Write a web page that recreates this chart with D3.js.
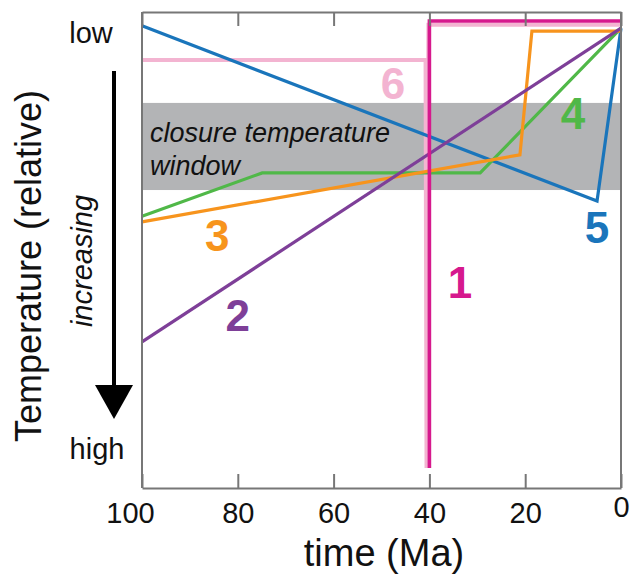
<!DOCTYPE html>
<html>
<head>
<meta charset="utf-8">
<script src="https://cdn.jsdelivr.net/npm/d3@7"></script>
<style>
  body { margin: 0; background: #fff; }
  svg { font-family: "Liberation Sans", Arial, sans-serif; }
</style>
</head>
<body>
<svg id="chart" width="630" height="575"></svg>
<script>
// time ticks (Ma), x axis runs backwards
var timeTicks = [100, 80, 60, 40, 20, 0];

// relative temperature: 0 = low (top), 100 = high (bottom)
var closureWindow = [19.1, 37.4];

// thermal histories, [time, temperature]
var path1 = [[40, 95.8], [40, 1.9], [0, 1.9]];
var path2 = [[100, 69.3], [0, 3.4]];
var path3 = [[100, 44.1], [21.1, 30.0], [18.6, 4.0], [0, 4.0]];
var path4 = [[100, 42.9], [74.9, 33.8], [29.4, 33.8], [0, 3.4]];
var path5 = [[100, 2.9], [5.0, 39.7], [0, 3.4]];
var path6 = [[100, 10.1], [40.8, 10.1], [40.6, 95.8], [40.2, 2.7], [0, 2.7]];

var seriesNames = ["6", "5", "4", "3", "2", "1"];
var seriesPaths = [path6, path5, path4, path3, path2, path1];
var seriesColors = ["#f3b4d1", "#1a75bb", "#50b848", "#f7941d", "#7e3f98", "#d6198d"];
var seriesWidths = [4, 3.2, 3.2, 3.2, 3.2, 3.6];
// where each number label sits, [time, temperature]
var labelAt = [[47.6, 14.9], [5.0, 45.2], [10.0, 21.2], [84.3, 46.8], [80.0, 63.7], [33.6, 56.7]];

var svg = d3.select("#chart");
var plotLeft = 142, plotRight = 621, plotTop = 12, plotBottom = 488;

var x = d3.scaleLinear().domain([100, 0]).range([plotLeft, plotRight]);
var y = d3.scaleLinear().domain([0, 100]).range([plotTop, plotBottom]);

// closure temperature window
svg.append("rect")
    .attr("x", plotLeft).attr("width", plotRight - plotLeft)
    .attr("y", y(closureWindow[0])).attr("height", y(closureWindow[1]) - y(closureWindow[0]))
    .attr("fill", "#b3b4b6");

var win = svg.append("text")
    .attr("x", 150).attr("y", 142)
    .attr("font-size", 27).attr("font-style", "italic").attr("fill", "#111");
win.append("tspan").attr("x", 150).text("closure temperature");
win.append("tspan").attr("x", 150).attr("dy", 33).text("window");

var line = d3.line().x(function(d) { return x(d[0]); }).y(function(d) { return y(d[1]); });

svg.selectAll("path.history")
    .data(seriesPaths)
    .enter().append("path")
    .attr("class", "history")
    .attr("d", line)
    .attr("fill", "none")
    .attr("stroke", function(d, i) { return seriesColors[i]; })
    .attr("stroke-width", function(d, i) { return seriesWidths[i]; })
    .attr("stroke-linejoin", "miter");

svg.selectAll("text.num")
    .data(seriesNames)
    .enter().append("text")
    .attr("class", "num")
    .attr("x", function(d, i) { return x(labelAt[i][0]); })
    .attr("y", function(d, i) { return y(labelAt[i][1]); })
    .attr("dy", "0.36em")
    .attr("text-anchor", "middle")
    .attr("font-size", 44).attr("font-weight", "bold")
    .attr("fill", function(d, i) { return seriesColors[i]; })
    .text(function(d) { return d; });

// frame with inward ticks top and bottom
var frame = "#777";
svg.append("g")
    .attr("transform", "translate(0," + plotBottom + ")")
    .call(d3.axisBottom(x).tickValues(timeTicks).tickSize(-14).tickPadding(14).tickSizeOuter(0))
    .call(function(g) {
        g.select(".domain").attr("stroke", frame).attr("stroke-width", 2);
        g.selectAll(".tick line").attr("stroke", frame).attr("stroke-width", 2);
        g.selectAll(".tick text").attr("font-size", 29).attr("fill", "#111")
            .attr("font-family", "Liberation Sans, Arial, sans-serif");
        g.selectAll(".tick").filter(function(d) { return d === 0; }).select("text").attr("dy", "0.5em");
        g.selectAll(".tick").filter(function(d) { return d === 100; }).select("text").attr("dx", -12);
    });
svg.append("g")
    .attr("transform", "translate(0," + plotTop + ")")
    .call(d3.axisTop(x).tickValues(timeTicks).tickSize(-14).tickFormat("").tickSizeOuter(0))
    .call(function(g) {
        g.select(".domain").attr("stroke", frame).attr("stroke-width", 2);
        g.selectAll(".tick line").attr("stroke", frame).attr("stroke-width", 2);
    });
svg.append("line").attr("x1", plotLeft).attr("x2", plotLeft).attr("y1", plotTop).attr("y2", plotBottom)
    .attr("stroke", frame).attr("stroke-width", 2);
svg.append("line").attr("x1", plotRight).attr("x2", plotRight).attr("y1", plotTop).attr("y2", plotBottom)
    .attr("stroke", frame).attr("stroke-width", 2);

// axis titles
svg.append("text")
    .attr("x", 384).attr("y", 566)
    .attr("text-anchor", "middle").attr("font-size", 38).attr("fill", "#111")
    .text("time (Ma)");
svg.append("text")
    .attr("transform", "translate(41,266) rotate(-90)")
    .attr("text-anchor", "middle").attr("font-size", 36).attr("fill", "#111")
    .text("Temperature (relative)");

svg.append("text").attr("x", 91).attr("y", 43).attr("text-anchor", "middle")
    .attr("font-size", 29).attr("fill", "#111").text("low");
svg.append("text").attr("x", 97).attr("y", 459).attr("text-anchor", "middle")
    .attr("font-size", 29).attr("fill", "#111").text("high");

// increasing arrow
svg.append("line").attr("x1", 114).attr("x2", 114).attr("y1", 71).attr("y2", 390)
    .attr("stroke", "#000").attr("stroke-width", 4);
svg.append("path").attr("d", "M95,385 L133,385 L114,419 Z").attr("fill", "#000");
svg.append("text")
    .attr("transform", "translate(92,261) rotate(-90)")
    .attr("text-anchor", "middle").attr("font-size", 29).attr("font-style", "italic").attr("fill", "#111")
    .text("increasing");
</script>
</body>
</html>
